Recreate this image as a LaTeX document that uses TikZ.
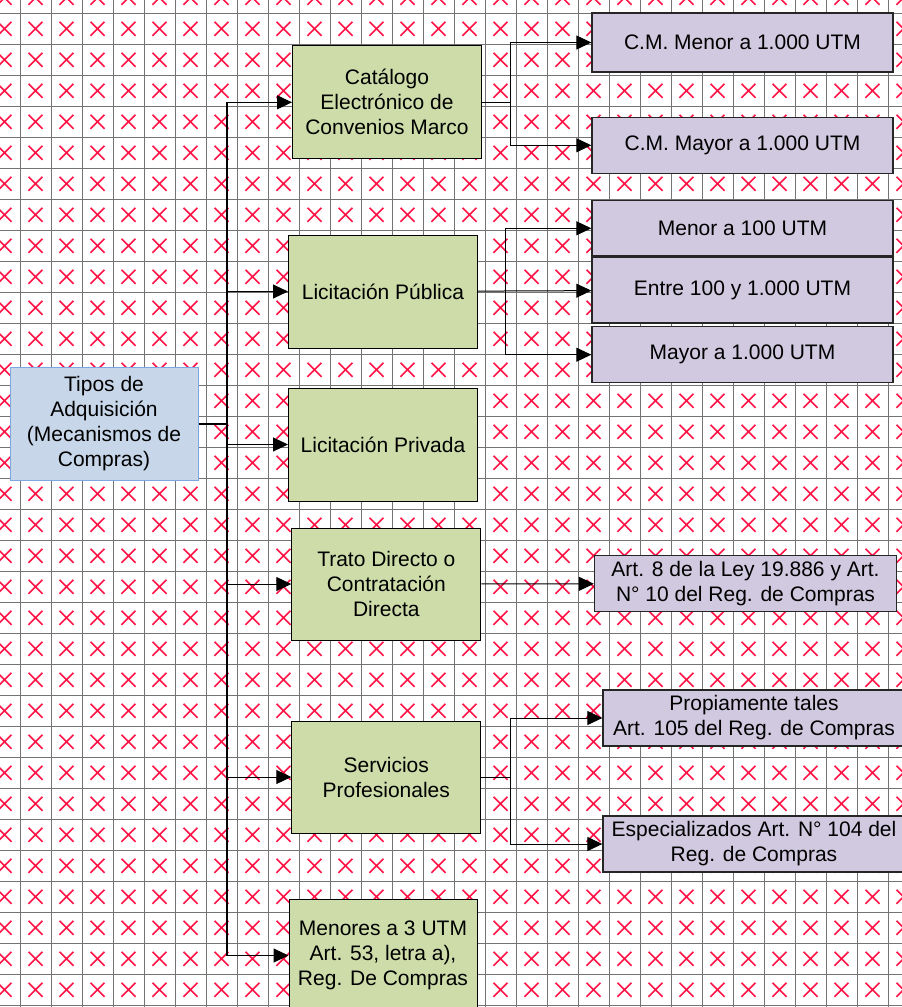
\documentclass[tikz,border=0pt]{standalone}
\usepackage{fontspec}
\setmainfont{Liberation Sans}
\usetikzlibrary{arrows.meta}
\definecolor{mechgreen}{RGB}{205,220,169}
\definecolor{subpurple}{RGB}{208,201,223}
\definecolor{rootblue}{RGB}{199,214,233}
\definecolor{rootline}{RGB}{126,166,224}
\definecolor{crossred}{RGB}{255,20,70}

\begin{document}
\begin{tikzpicture}[x=1pt,y=-1pt,
  every node/.style={font=\fontsize{21}{25}\selectfont,align=center,inner sep=2pt},
  root/.style={draw=rootline,line width=1pt,fill=rootblue,minimum width=188pt,minimum height=113pt},
  mech/.style={draw=black,line width=1pt,fill=mechgreen,minimum width=189pt,minimum height=113pt},
  sub/.style={draw=black!85,line width=1.3pt,fill=subpurple,minimum width=301pt,minimum height=56pt},
  cross/.style={draw=crossred,line width=1.6pt},
  gridline/.style={draw=black!55,line width=0.8pt},
  bus/.style={line width=2pt},
  link/.style={line width=1pt},
  arr/.style={line width=1pt,-{Triangle[length=15pt,width=14pt]}}]
\useasboundingbox (0,0) rectangle (902,1007);
\clip (0,0) rectangle (902,1007);
\fill[white] (0,0) rectangle (902,1007);
% cuadricula
\foreach \i in {-1,...,28}
  \draw[gridline] (20+31*\i,0) -- (20+31*\i,1007);
\foreach \j in {0,...,32}
  \draw[gridline] (0,13.3+31*\j) -- (902,13.3+31*\j);
\foreach \i in {-1,...,28}
  \foreach \j in {-1,...,31}
    \draw[cross] (35.5+31*\i,28.8+31*\j) ++(-7,-7) -- ++(14,14) ++(0,-14) -- ++(-14,14);

\node[root] (t_0) at (104,423.5) {Tipos de\\Adquisición\\(Mecanismos de\\Compras)};
\node[mech] (m_1) at (387,102.3)  {Catálogo\\Electrónico de\\Convenios Marco};
\node[mech] (m_2) at (383,291.5)  {Licitación Pública};
\node[mech] (m_3) [below of=m_2,node distance=153pt] {Licitación Privada};
\node[mech,minimum height=112pt] (m_4) at (386.3,584) {Trato Directo o\\Contratación\\Directa};
\node[mech,minimum height=112pt] (m_5) [below of=m_4,node distance=193pt] {Servicios\\Profesionales};
\node[mech,minimum width=188pt] (m_6) at (383,955.5) {Menores a 3 UTM\\Art. 53, letra a),\\Reg. De Compras};

\node[sub,minimum height=59pt] (s_1) at (742.5,42.5)  {C.M. Menor a 1.000 UTM};
\node[sub]                     (s_2) at (742.5,145.3) {C.M. Mayor a 1.000 UTM};
\node[sub,minimum height=55pt] (s_3) at (742.5,228.3) {Menor a 100 UTM};
\node[sub,minimum height=66pt] (s_4) at (742.5,290)   {Entre 100 y 1.000 UTM};
\node[sub]                     (s_5) at (742.5,354.7) {Mayor a 1.000 UTM};
\node[sub,minimum width=302pt] (s_6) at (745.5,583.7) {Art. 8 de la Ley 19.886 y Art.\\N° 10 del Reg. de Compras};
\node[sub,minimum width=302pt] (s_7) at (754,718)     {Propiamente tales\\Art. 105 del Reg. de Compras};
\node[sub,minimum width=302pt] (s_8) at (754,844)     {Especializados Art. N° 104 del\\Reg. de Compras};

\coordinate (j_0) at (226.5,423.5);
\coordinate (k_1) at (510,102.3);
\coordinate (k_2) at (505.7,291.5);
\coordinate (k_5) at (510,777);

\draw[bus] (t_0.east) -- (j_0);
\draw[bus] (j_0 |- m_1) -- (j_0 |- m_6);
\path[arr] (j_0 |- m_1) edge (m_1)
           (j_0 |- m_2) edge (m_2)
           (j_0 |- m_3) edge (m_3)
           (j_0 |- m_4) edge (m_4)
           (j_0 |- m_5) edge (m_5)
           (j_0 |- m_6) edge (m_6);

\draw[link] (m_1) -- (k_1);
\draw[link] (k_1 |- s_1) -- (k_1 |- s_2);
\path[arr] (k_1 |- s_1) edge (s_1)
           (k_1 |- s_2) edge (s_2);

\draw[link] (k_2 |- s_3) -- (k_2 |- s_5);
\path[arr] (m_2) edge (s_4)
           (k_2 |- s_3) edge (s_3)
           (k_2 |- s_5) edge (s_5);

\path[arr] (m_4) edge (s_6);

\draw[link] (m_5) -- (k_5);
\draw[link] (k_5 |- s_7) -- (k_5 |- s_8);
\path[arr] (k_5 |- s_7) edge (s_7)
           (k_5 |- s_8) edge (s_8);
\end{tikzpicture}
\end{document}
